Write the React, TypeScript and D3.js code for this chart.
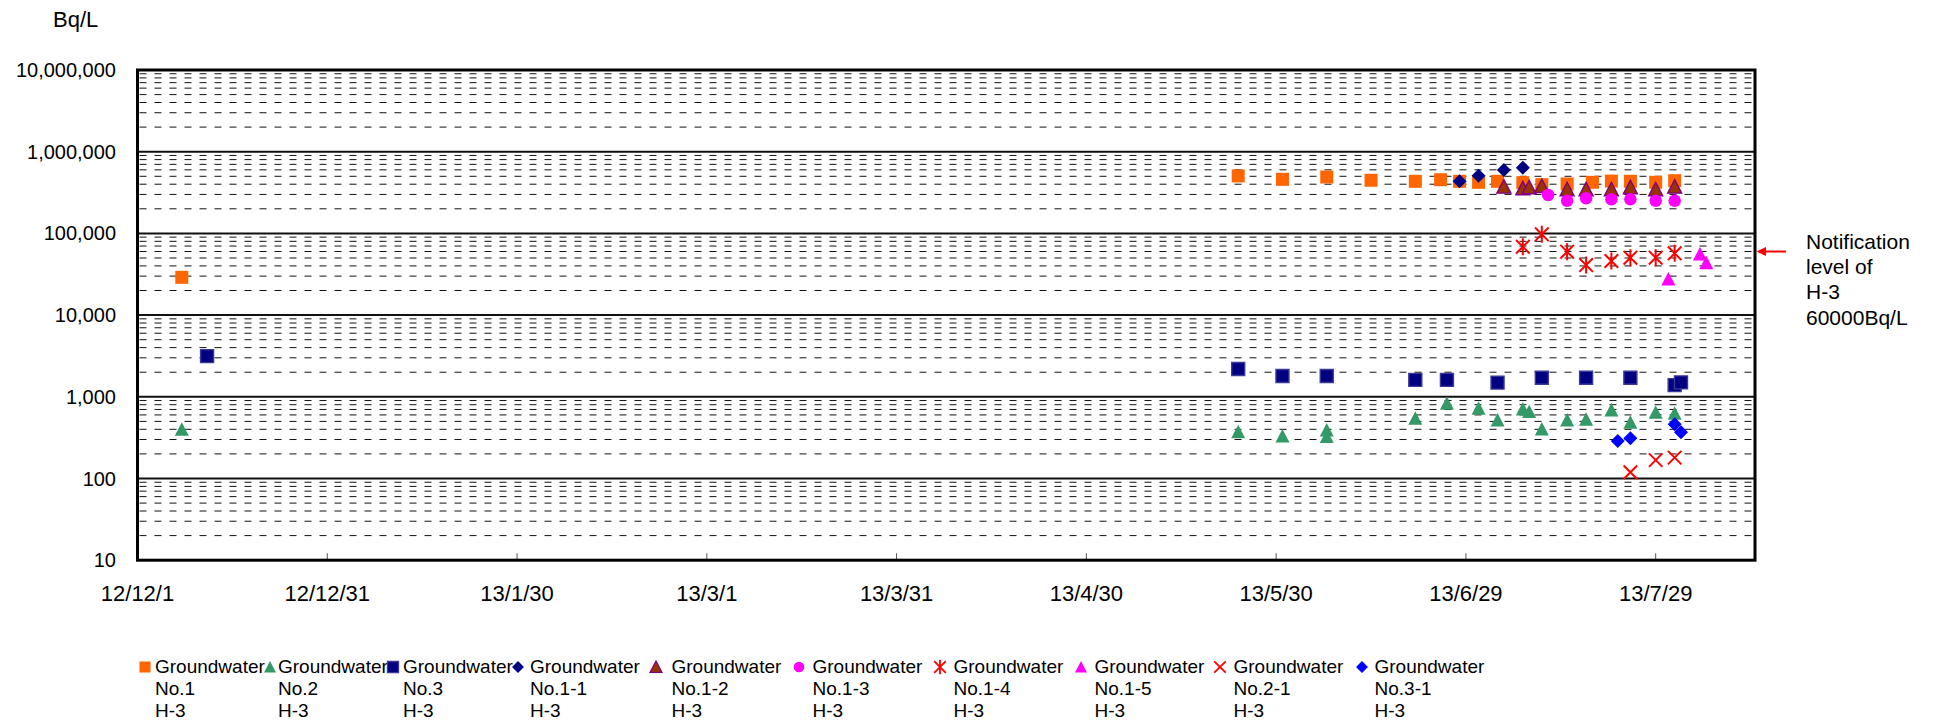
import React, { useEffect, useRef } from "react";
import * as d3 from "d3";

// y axis ticks (log scale) and x axis tick labels
const yTickValues = [10, 100, 1000, 10000, 100000, 1000000, 10000000];
const xTickLabels = ["12/12/1", "12/12/31", "13/1/30", "13/3/1", "13/3/31", "13/4/30", "13/5/30", "13/6/29", "13/7/29"];

// Groundwater No.1 H-3
const no1Dates = ["2012-12-08", "2013-05-24", "2013-05-31", "2013-06-07", "2013-06-14", "2013-06-21", "2013-06-25", "2013-06-28", "2013-07-01", "2013-07-04", "2013-07-08", "2013-07-11", "2013-07-15", "2013-07-19", "2013-07-22", "2013-07-25", "2013-07-29", "2013-08-01"];
const no1Values = [29000, 505000, 459000, 490000, 447000, 434000, 454000, 434000, 422000, 434000, 418000, 395000, 403000, 422000, 437000, 434000, 422000, 442000];

// Groundwater No.2 H-3
const no2Dates = ["2012-12-08", "2013-05-24", "2013-05-31", "2013-06-07", "2013-06-07", "2013-06-21", "2013-06-26", "2013-07-01", "2013-07-04", "2013-07-08", "2013-07-09", "2013-07-11", "2013-07-15", "2013-07-18", "2013-07-22", "2013-07-25", "2013-07-29", "2013-08-01"];
const no2Values = [400, 374, 331, 393, 325, 545, 832, 723, 520, 709, 658, 404, 520, 530, 689, 488, 646, 628];

// Groundwater No.3 H-3
const no3Dates = ["2012-12-12", "2013-05-24", "2013-05-31", "2013-06-07", "2013-06-21", "2013-06-26", "2013-07-04", "2013-07-11", "2013-07-18", "2013-07-25", "2013-08-01", "2013-08-02"];
const no3Values = [3150, 2190, 1800, 1800, 1610, 1610, 1490, 1710, 1710, 1710, 1390, 1500];

// Groundwater No.1-1 H-3
const no11Dates = ["2013-06-28", "2013-07-01", "2013-07-05", "2013-07-08"];
const no11Values = [435000, 508000, 597000, 637000];

// Groundwater No.1-2 H-3
const no12Dates = ["2013-07-05", "2013-07-08", "2013-07-09", "2013-07-11", "2013-07-15", "2013-07-18", "2013-07-22", "2013-07-25", "2013-07-29", "2013-08-01"];
const no12Values = [373000, 356000, 367000, 380000, 347000, 347000, 347000, 367000, 347000, 373000];

// Groundwater No.1-3 H-3
const no13Dates = ["2013-07-12", "2013-07-15", "2013-07-18", "2013-07-22", "2013-07-25", "2013-07-29", "2013-08-01"];
const no13Values = [295000, 251000, 269000, 261000, 261000, 251000, 251000];

// Groundwater No.1-4 H-3
const no14Dates = ["2013-07-08", "2013-07-11", "2013-07-15", "2013-07-18", "2013-07-22", "2013-07-25", "2013-07-29", "2013-08-01"];
const no14Values = [68700, 97500, 59700, 41000, 45900, 50400, 50400, 57000];

// Groundwater No.1-5 H-3
const no15Dates = ["2013-07-31", "2013-08-05", "2013-08-06"];
const no15Values = [27700, 56000, 43800];

// Groundwater No.2-1 H-3
const no21Dates = ["2013-07-25", "2013-07-29", "2013-08-01"];
const no21Values = [119, 168, 180];

// Groundwater No.3-1 H-3
const no31Dates = ["2013-07-23", "2013-07-25", "2013-08-01", "2013-08-02"];
const no31Values = [288, 311, 460, 367];

const notificationLevel = 60000;
const notificationLines = ["Notification", "level of", "H-3", "60000Bq/L"];

type Marker = "square" | "triangle" | "diamond" | "circle" | "asterisk" | "cross";

const series = [
  { name: "No.1", dates: no1Dates, values: no1Values, marker: "square", fill: "#FF6600", stroke: "none" },
  { name: "No.2", dates: no2Dates, values: no2Values, marker: "triangle", fill: "#339966", stroke: "none" },
  { name: "No.3", dates: no3Dates, values: no3Values, marker: "square", fill: "#000080", stroke: "#3a3a9a" },
  { name: "No.1-1", dates: no11Dates, values: no11Values, marker: "diamond", fill: "#000080", stroke: "none" },
  { name: "No.1-2", dates: no12Dates, values: no12Values, marker: "triangle", fill: "#993300", stroke: "#800080" },
  { name: "No.1-3", dates: no13Dates, values: no13Values, marker: "circle", fill: "#FF00FF", stroke: "none" },
  { name: "No.1-4", dates: no14Dates, values: no14Values, marker: "asterisk", fill: "none", stroke: "#FF0000" },
  { name: "No.1-5", dates: no15Dates, values: no15Values, marker: "triangle", fill: "#FF00FF", stroke: "none" },
  { name: "No.2-1", dates: no21Dates, values: no21Values, marker: "cross", fill: "none", stroke: "#FF0000" },
  { name: "No.3-1", dates: no31Dates, values: no31Values, marker: "diamond", fill: "#0000FF", stroke: "none" },
];

// legend layout (marker centre / text start)
const legendMarkerX = [145, 270, 393, 518, 656, 799, 940, 1081, 1220, 1362];
const legendTextX = [155, 278, 403, 530, 671.5, 812.5, 953.5, 1094.5, 1233.5, 1374.5];

function markerPath(m: Marker, s: number) {
  const h = s / 2;
  switch (m) {
    case "square":
      return `M${-h},${-h}H${h}V${h}H${-h}Z`;
    case "triangle":
      return `M0,${-h}L${h},${h * 0.92}L${-h},${h * 0.92}Z`;
    case "diamond":
      return `M0,${-h}L${h},0L0,${h}L${-h},0Z`;
    case "circle":
      return `M${h},0A${h},${h} 0 1,1 ${-h},0A${h},${h} 0 1,1 ${h},0Z`;
    case "asterisk":
      return `M${-h * 0.8},${-h * 0.8}L${h * 0.8},${h * 0.8}M${h * 0.8},${-h * 0.8}L${-h * 0.8},${h * 0.8}M0,${-h}V${h}`;
    case "cross":
      return `M${-h},${-h}L${h},${h}M${h},${-h}L${-h},${h}`;
  }
}

const markerSize: Record<Marker, number> = {
  square: 13,
  triangle: 14,
  diamond: 14,
  circle: 12.5,
  asterisk: 17,
  cross: 13.5,
};

const Chart = () => {
  const svgRef = useRef<SVGSVGElement>(null);

  useEffect(() => {
    const width = 1933;
    const height = 722;
    const left = 137.5;
    const right = 1755;
    const top = 70;
    const bottom = 560.2;

    const svg = d3.select(svgRef.current);
    svg.selectAll("*").remove();
    svg.attr("width", width).attr("height", height);

    const parseDate = d3.timeParse("%Y-%m-%d");
    const parseTick = d3.timeParse("%y/%m/%d");

    const x = d3
      .scaleTime()
      .domain([new Date(2012, 11, 1), new Date(2013, 7, 13, 16, 48)])
      .range([left, right]);

    const y = d3.scaleLog().domain([10, 10000000]).range([bottom, top]);

    const font = "'Liberation Sans', Arial, sans-serif";

    // minor dashed gridlines
    const minor: number[] = [];
    for (let e = 1; e < 7; e++) {
      for (let k = 2; k <= 9; k++) minor.push(k * Math.pow(10, e));
    }
    svg
      .append("g")
      .selectAll("line")
      .data(minor)
      .enter()
      .append("line")
      .attr("x1", left + 2)
      .attr("x2", right - 2)
      .attr("y1", (d) => y(d))
      .attr("y2", (d) => y(d))
      .attr("stroke", "#111")
      .attr("stroke-width", 1)
      .attr("stroke-dasharray", "7,8");

    // major gridlines
    svg
      .append("g")
      .selectAll("line")
      .data(yTickValues.slice(1, -1))
      .enter()
      .append("line")
      .attr("x1", left)
      .attr("x2", right)
      .attr("y1", (d) => y(d))
      .attr("y2", (d) => y(d))
      .attr("stroke", "#111")
      .attr("stroke-width", 2);

    // x ticks
    const xTicks = xTickLabels.map((t) => parseTick(t) as Date);
    svg
      .append("g")
      .selectAll("line")
      .data(xTicks.slice(1))
      .enter()
      .append("line")
      .attr("x1", (d) => x(d))
      .attr("x2", (d) => x(d))
      .attr("y1", bottom)
      .attr("y2", bottom - 7)
      .attr("stroke", "#555")
      .attr("stroke-width", 1);

    // frame
    svg
      .append("rect")
      .attr("x", left)
      .attr("y", top)
      .attr("width", right - left)
      .attr("height", bottom - top)
      .attr("fill", "none")
      .attr("stroke", "#000")
      .attr("stroke-width", 3);

    // y labels
    svg
      .append("g")
      .selectAll("text")
      .data(yTickValues)
      .enter()
      .append("text")
      .attr("x", 116)
      .attr("y", (d) => y(d) + 7)
      .attr("text-anchor", "end")
      .attr("font-family", font)
      .attr("font-size", 20)
      .attr("fill", "#000")
      .text((d) => d3.format(",")(d));

    // x labels
    svg
      .append("g")
      .selectAll("text")
      .data(xTicks)
      .enter()
      .append("text")
      .attr("x", (d) => x(d))
      .attr("y", 601)
      .attr("text-anchor", "middle")
      .attr("font-family", font)
      .attr("font-size", 22)
      .attr("fill", "#000")
      .text((d, i) => xTickLabels[i]);

    // unit
    svg
      .append("text")
      .attr("x", 53)
      .attr("y", 26.5)
      .attr("font-family", font)
      .attr("font-size", 22)
      .text("Bq/L");

    // series markers
    series.forEach((s) => {
      const m = s.marker as Marker;
      const pts = s.dates.map((d, i) => ({ date: parseDate(d) as Date, value: s.values[i] }));
      const isLine = m === "asterisk" || m === "cross";
      svg
        .append("g")
        .selectAll("path")
        .data(pts)
        .enter()
        .append("path")
        .attr("transform", (d) => `translate(${x(d.date)},${y(d.value)})`)
        .attr("d", markerPath(m, markerSize[m]))
        .attr("fill", s.fill)
        .attr("stroke", s.stroke)
        .attr("stroke-width", isLine ? 2 : 1.4);
    });

    // notification level arrow
    const ny = y(notificationLevel);
    svg
      .append("line")
      .attr("x1", right + 8)
      .attr("x2", right + 31)
      .attr("y1", ny)
      .attr("y2", ny)
      .attr("stroke", "#FF0000")
      .attr("stroke-width", 2);
    svg
      .append("path")
      .attr("d", `M${right + 1.5},${ny}L${right + 11},${ny - 4.5}L${right + 11},${ny + 4.5}Z`)
      .attr("fill", "#FF0000");

    svg
      .append("g")
      .selectAll("text")
      .data(notificationLines)
      .enter()
      .append("text")
      .attr("x", 1806)
      .attr("y", (d, i) => 248.5 + i * 25.4)
      .attr("font-family", font)
      .attr("font-size", 21)
      .text((d) => d);

    // legend
    const legend = svg.append("g");
    series.forEach((s, i) => {
      const m = s.marker as Marker;
      const isLine = m === "asterisk" || m === "cross";
      legend
        .append("path")
        .attr("transform", `translate(${legendMarkerX[i]},667)`)
        .attr("d", markerPath(m, markerSize[m] * 0.85))
        .attr("fill", s.fill)
        .attr("stroke", s.stroke)
        .attr("stroke-width", isLine ? 1.8 : 1.3);
      const lines = ["Groundwater", s.name, "H-3"];
      lines.forEach((t, j) => {
        legend
          .append("text")
          .attr("x", legendTextX[i])
          .attr("y", 673 + j * 22)
          .attr("font-family", font)
          .attr("font-size", 19)
          .attr("fill", "#000")
          .text(t);
      });
    });
  }, []);

  return <svg ref={svgRef} style={{ display: "block" }} />;
};

export default function App() {
  return (
    <div>
      <style>{"body{margin:0;background:#fff}"}</style>
      <Chart />
    </div>
  );
}
